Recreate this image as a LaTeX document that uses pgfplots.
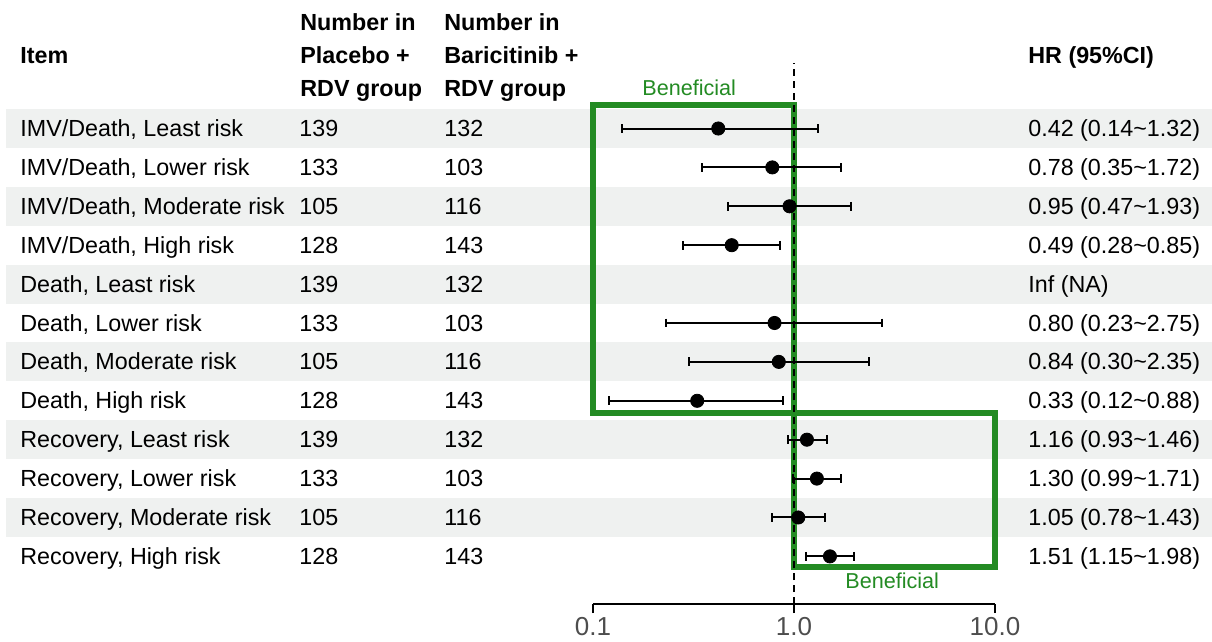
\documentclass[border=0pt]{standalone}
\usepackage{pgfplots}
\pgfplotsset{compat=1.18}
\usepackage{fontspec}
\setmainfont{Liberation Sans}
\definecolor{rowgray}{RGB}{239,241,240}
\definecolor{benegreen}{RGB}{35,139,35}
\definecolor{tickgray}{RGB}{77,77,77}
\newcommand{\tf}{\fontsize{11.65}{13.8}\selectfont}

\begin{document}
\begin{tikzpicture}
\begin{scope}[x=0.5pt,y=-0.5pt]
\path (0,0) rectangle (1212,642);
\foreach \r in {0,2,4,6,8,10} {
  \fill[rowgray] (6,{109.05+\r*38.9}) rectangle (1212,{147.95+\r*38.9});
}
\end{scope}

\begin{axis}[
  at={(296.5pt,-302pt)}, anchor=south west,
  scale only axis, width=201pt, height=272pt,
  xmode=log, xmin=0.1, xmax=10,
  ymin=-0.224, ymax=13.761,
  axis x line*=bottom, axis y line=none,
  xtick={0.1,1,10}, xticklabels={0.1,1.0,10.0},
  minor xtick={}, xminorticks=false,
  tick align=outside, major tick length=4.5pt,
  x axis line style={line width=0.8pt},
  xtick style={line width=0.8pt, black},
  xticklabel style={font=\fontsize{13}{15}\selectfont, text=tickgray, inner sep=1.8pt},
  clip=false,
]
% beneficial boxes
\draw[benegreen, line width=2.6pt] (axis cs:0.1,4.686) rectangle (axis cs:1,12.604);
\draw[benegreen, line width=2.6pt] (axis cs:1,0.728) rectangle (axis cs:10,4.686);
% reference line
\addplot[black, line width=0.7pt, dash pattern=on 3.5pt off 2.5pt] coordinates {(1,-0.224) (1,13.684)};
% confidence intervals
\addplot[black, line width=1pt, mark=|, mark size=2.2pt, unbounded coords=jump] table[row sep=\\] {
x y \\
0.14 12 \\ 1.32 12 \\ nan nan \\
0.35 11 \\ 1.72 11 \\ nan nan \\
0.47 10 \\ 1.93 10 \\ nan nan \\
0.28 9 \\ 0.85 9 \\ nan nan \\
0.23 7 \\ 2.75 7 \\ nan nan \\
0.30 6 \\ 2.35 6 \\ nan nan \\
0.12 5 \\ 0.88 5 \\ nan nan \\
0.93 4 \\ 1.46 4 \\ nan nan \\
0.99 3 \\ 1.71 3 \\ nan nan \\
0.78 2 \\ 1.43 2 \\ nan nan \\
1.15 1 \\ 1.98 1 \\
};
% point estimates
\addplot[only marks, mark=*, mark size=3.3pt, black] table[row sep=\\] {
x y \\
0.42 12 \\ 0.78 11 \\ 0.95 10 \\ 0.49 9 \\
0.80 7 \\ 0.84 6 \\ 0.33 5 \\
1.16 4 \\ 1.30 3 \\ 1.05 2 \\ 1.51 1 \\
};
\end{axis}

\begin{scope}[x=0.5pt,y=-0.5pt, every node/.style={inner sep=0pt, anchor=base west, font=\tf}]
% headers
\node[font=\tf\bfseries] at (20,64) {Item};
\node[font=\tf\bfseries] at (300,31) {Number in};
\node[font=\tf\bfseries] at (300,64) {Placebo +};
\node[font=\tf\bfseries] at (300,97) {RDV group};
\node[font=\tf\bfseries] at (444,31) {Number in};
\node[font=\tf\bfseries] at (444,64) {Baricitinib +};
\node[font=\tf\bfseries] at (444,97) {RDV group};
\node[font=\tf\bfseries] at (1028,64) {HR (95\%CI)};
% rows
\foreach \i/\item/\na/\nb/\hr in {
 0/{IMV/Death, Least risk}/139/132/{0.42 (0.14\textasciitilde 1.32)},
 1/{IMV/Death, Lower risk}/133/103/{0.78 (0.35\textasciitilde 1.72)},
 2/{IMV/Death, Moderate risk}/105/116/{0.95 (0.47\textasciitilde 1.93)},
 3/{IMV/Death, High risk}/128/143/{0.49 (0.28\textasciitilde 0.85)},
 4/{Death, Least risk}/139/132/{Inf (NA)},
 5/{Death, Lower risk}/133/103/{0.80 (0.23\textasciitilde 2.75)},
 6/{Death, Moderate risk}/105/116/{0.84 (0.30\textasciitilde 2.35)},
 7/{Death, High risk}/128/143/{0.33 (0.12\textasciitilde 0.88)},
 8/{Recovery, Least risk}/139/132/{1.16 (0.93\textasciitilde 1.46)},
 9/{Recovery, Lower risk}/133/103/{1.30 (0.99\textasciitilde 1.71)},
 10/{Recovery, Moderate risk}/105/116/{1.05 (0.78\textasciitilde 1.43)},
 11/{Recovery, High risk}/128/143/{1.51 (1.15\textasciitilde 1.98)}} {
  \node at (20,{136.5+\i*38.9}) {\item};
  \node at (299,{136.5+\i*38.9}) {\na};
  \node at (444,{136.5+\i*38.9}) {\nb};
  \node at (1028,{136.5+\i*38.9}) {\hr};
}
\node[text=benegreen, font=\fontsize{10.8}{12}\selectfont] at (642,95.5) {Beneficial};
\node[text=benegreen, font=\fontsize{10.8}{12}\selectfont] at (845,588) {Beneficial};
\end{scope}
\end{tikzpicture}
\end{document}
